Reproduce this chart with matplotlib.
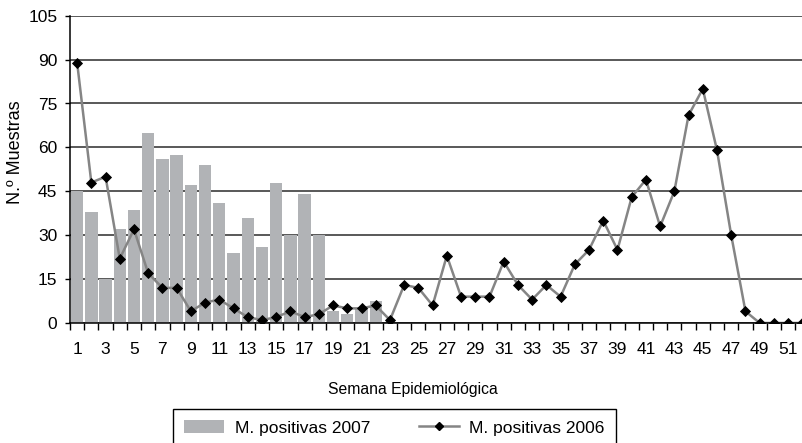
import matplotlib
matplotlib.use("Agg")
import matplotlib.pyplot as plt
import numpy as np
from matplotlib.patches import Patch
from matplotlib.lines import Line2D

plt.rcParams['font.family'] = ['Liberation Sans', 'DejaVu Sans']

weeks = list(range(1, 53))
weeks_2007 = list(range(1, 23))
positivas_2007 = [45, 38, 15, 32, 38.5, 65, 56, 57.5, 47, 54, 41, 24, 36, 26,
                  48, 30, 44, 30, 4, 3, 5, 7.5]
positivas_2006 = [89, 48, 50, 22, 32, 17, 12, 12, 4, 7,
                  8, 5, 2, 1, 2, 4, 2, 3, 6, 5,
                  5, 6, 1, 13, 12, 6, 23, 9, 9, 9,
                  21, 13, 8, 13, 9, 20, 25, 35, 25, 43,
                  49, 33, 45, 71, 80, 59, 30, 4, 0, 0,
                  0, 0]
yticks = list(range(0, 106, 15))
xtick_labels = [str(w) for w in range(1, 52, 2)]

W, H = 802, 443
fig = plt.figure(figsize=(W / 100, H / 100), dpi=100)
left_px, right_px = 70, 70 + 52 * 14.22
bottom_px, top_px = 323, 15.7
ax = fig.add_axes([left_px / W, 1 - bottom_px / H,
                   (right_px - left_px) / W, (bottom_px - top_px) / H])

bar_color = '#b1b3b6'
line_color = '#858585'

ax.bar(weeks_2007, positivas_2007, width=0.87, color=bar_color, zorder=2)
ax.plot(weeks, positivas_2006, color=line_color, linewidth=1.8,
        marker='D', markersize=5.4, markerfacecolor='black',
        markeredgecolor='black', markeredgewidth=0.6, zorder=3)

ax.set_xlim(0.5, 52.5)
ax.set_ylim(0, 105)
ax.set_yticks(yticks)
ax.set_axisbelow(True)
ax.yaxis.grid(True, color='#2b2b2b', linewidth=1.1)
for s in ['top', 'right']:
    ax.spines[s].set_visible(False)
ax.spines['left'].set_linewidth(1.1)
ax.spines['bottom'].set_linewidth(1.1)
ax.spines['bottom'].set_zorder(4)

ax.set_xticks(list(range(1, 52, 2)))
ax.set_xticklabels(xtick_labels)
ax.set_xticks(np.arange(0.5, 53, 1), minor=True)
ax.tick_params(axis='x', which='major', length=0, pad=13.5, labelsize=12.5)
ax.tick_params(axis='x', which='minor', length=5, width=1, direction='out')
ax.tick_params(axis='y', length=3.6, width=1, pad=5.5, labelsize=12.5)

fig.text(16 / W, 1 - 152 / H, 'N.º Muestras', rotation=90, ha='center',
         va='center', fontsize=13)
fig.text(413 / W, 1 - 394.3 / H, 'Semana Epidemiológica', ha='center',
         va='baseline', fontsize=11.3)

handles = [Patch(facecolor=bar_color, edgecolor='none'),
           Line2D([], [], color=line_color, linewidth=1.8, marker='D',
                  markersize=4, markerfacecolor='black', markeredgecolor='black')]
leg = fig.legend(handles, ['M. positivas 2007', 'M. positivas 2006'],
                 loc='upper left', bbox_to_anchor=(173 / W, 1 - 409 / H),
                 bbox_transform=fig.transFigure, ncol=2, frameon=True,
                 fancybox=False, shadow=False, framealpha=1, edgecolor='black',
                 fontsize=12.5, borderaxespad=0, borderpad=0.65,
                 handlelength=2.3, handleheight=0.75, handletextpad=0.6,
                 columnspacing=2.8)
leg.get_frame().set_linewidth(1.0)

fig.savefig('out.png', dpi=100)
